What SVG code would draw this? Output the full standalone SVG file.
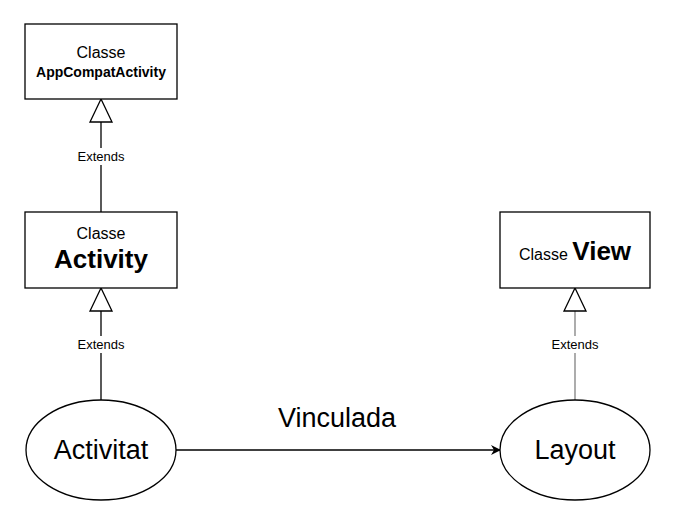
<svg xmlns="http://www.w3.org/2000/svg" width="674" height="523" viewBox="0 0 674 523">
<defs>
<style>
.box{fill:#fff;stroke:#000;stroke-width:1.3}
.t{font-family:"Liberation Sans",Arial,sans-serif;fill:#000;text-anchor:middle}
.edge{stroke:#000;stroke-width:1.3;fill:none}
.gray{stroke:#808080}
.lbl{font-family:"Liberation Sans",Arial,sans-serif;font-size:13px;fill:#000;text-anchor:middle}
.lblbg{fill:#fff}
.tri{fill:#fff;stroke:#000;stroke-width:1.3}
</style>
<marker id="arr" viewBox="0 0 10 10" refX="9" refY="5" markerWidth="10" markerHeight="10" markerUnits="userSpaceOnUse" orient="auto">
<path d="M0,0 L10,5 L0,10 L3,5 Z" fill="#000"/>
</marker>
</defs>
<rect width="674" height="523" fill="#fff"/>
<g id="connectors">
<line class="edge" x1="101" y1="122" x2="101" y2="212"/>
<polygon class="tri" points="101,99 90,122 112,122"/>
<rect class="lblbg" x="74" y="148" width="54" height="17"/>
<text class="lbl" x="101" y="161">Extends</text>
<line class="edge" x1="101" y1="311" x2="101" y2="400"/>
<polygon class="tri" points="101,288 90,311 112,311"/>
<rect class="lblbg" x="74" y="336" width="54" height="17"/>
<text class="lbl" x="101" y="349">Extends</text>
<line class="edge gray" x1="575" y1="311" x2="575" y2="400"/>
<polygon class="tri" points="575,288 564,311 586,311"/>
<rect class="lblbg" x="548" y="336" width="54" height="17"/>
<text class="lbl" x="575" y="349">Extends</text>
<line class="edge" x1="176" y1="450" x2="500" y2="450" marker-end="url(#arr)"/>
<text class="t" x="337" y="427" font-size="27">Vinculada</text>
</g>
<g id="appcompat">
<rect class="box" x="25" y="24" width="152" height="75"/>
<text class="t" x="101" y="58" font-size="16">Classe</text>
<text class="t" x="101" y="77" font-size="14" font-weight="bold">AppCompatActivity</text>
</g>
<g id="activity">
<rect class="box" x="25" y="212" width="152" height="76"/>
<text class="t" x="101" y="239" font-size="16">Classe</text>
<text class="t" x="101" y="268" font-size="26" font-weight="bold">Activity</text>
</g>
<g id="view">
<rect class="box" x="500" y="212" width="150" height="76"/>
<text class="t" x="575" y="260"><tspan font-size="16">Classe </tspan><tspan font-size="26" font-weight="bold">View</tspan></text>
</g>
<g id="activitat">
<ellipse class="box" cx="101" cy="450" rx="75" ry="50"/>
<text class="t" x="101" y="459" font-size="27">Activitat</text>
</g>
<g id="layout">
<ellipse class="box" cx="575" cy="450" rx="75" ry="50"/>
<text class="t" x="575" y="459" font-size="27">Layout</text>
</g>
</svg>
